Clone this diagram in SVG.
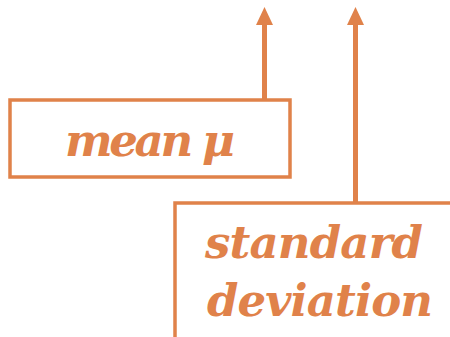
<svg xmlns="http://www.w3.org/2000/svg" width="450" height="337" viewBox="0 0 450 337">
<defs>
<style>
.box{fill:#fff;stroke:#E0824A;stroke-width:3.5}
.lbl{font-family:"DejaVu Serif",serif;font-weight:bold;font-style:italic;font-size:45px;fill:#E0824A}
.conn{stroke:#E0824A;stroke-width:5;fill:none}
.head{fill:#E0824A}
</style>
</defs>
<g id="connectors">
<line class="conn" x1="264.5" y1="100" x2="264.5" y2="24"/>
<polygon class="head" points="264.5,7 256,25 273,25"/>
<line class="conn" x1="355.5" y1="203" x2="355.5" y2="24"/>
<polygon class="head" points="355.5,7 347,25 364,25"/>
</g>
<g id="mean">
<rect class="box" x="10" y="100" width="280" height="77"/>
<text class="lbl" x="65" y="156" textLength="170" lengthAdjust="spacing">mean μ</text>
</g>
<g id="stddev">
<rect class="box" x="175" y="203" width="290" height="150"/>
<text class="lbl" x="205" y="258" textLength="218" lengthAdjust="spacing">standard</text>
<text class="lbl" x="207" y="316" textLength="226" lengthAdjust="spacing">deviation</text>
</g>
</svg>
